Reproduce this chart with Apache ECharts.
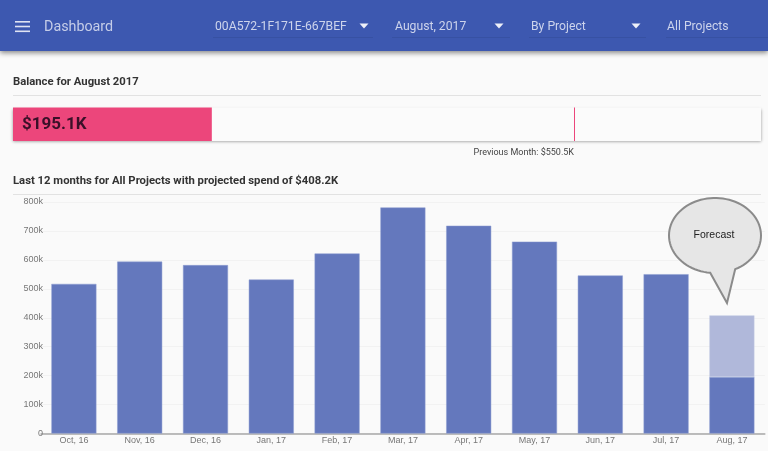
<!DOCTYPE html>
<html>
<head>
<meta charset="utf-8">
<title>Dashboard</title>
<script src="https://cdn.jsdelivr.net/npm/echarts@6/dist/echarts.min.js"></script>
<style>
html,body{margin:0;padding:0;background:#fafafa;}
#main{width:768px;height:451px;}
</style>
</head>
<body>
<div id="main"></div>
<script>
// data, in thousands of dollars
var months = ['Oct, 16','Nov, 16','Dec, 16','Jan, 17','Feb, 17','Mar, 17','Apr, 17','May, 17','Jun, 17','Jul, 17','Aug, 17'];
var spend = [517,594,582,532,622,781,718,663,546,550.5,195.1];
var forecast = [null,null,null,null,null,null,null,null,null,null,213.1];
var balance = [195.1];
var previousMonth = 550.5;
var balanceScaleMax = 734;
var yTicks = {min:0,max:800,interval:100};

var chart = echarts.init(document.getElementById('main'));

var ROBOTO = 'Roboto, sans-serif';
var ARIAL = '"Liberation Sans", Arial, sans-serif';

function headerSelect(label,x,x1,x2,arrow){
	var items = [
		{type:'text',z:12,style:{x:x,y:27,text:label,fill:'#cdd4ec',font:'12.2px '+ROBOTO,verticalAlign:'middle'}},
		{type:'line',z:12,shape:{x1:x1,y1:37.5,x2:x2,y2:37.5},style:{stroke:'#3751a3',lineWidth:1}}
	];
	if(arrow){
		items.push({type:'polygon',z:12,shape:{points:[[arrow-4.5,23.5],[arrow+4.5,23.5],[arrow,28.5]]},style:{fill:'#eef0f8'}});
	}
	return items;
}

// speech bubble outline: ellipse with the tail cut in
function bubblePoints(){
	var pts = [],cx = 715,cy = 235.5,rx = 46,ry = 37.5;
	for(var a = 0;a<360;a += 4){
		// canvas y goes down, angles 66..94 are where the tail leaves the ellipse
		if(a>=66 && a<=94){
			if(a===68) pts.push([727,303]);
			continue;
		}
		var r = a*Math.PI/180;
		pts.push([cx+rx*Math.cos(r),cy+ry*Math.sin(r)]);
	}
	return pts;
}

var graphics = [
	// balance box behind the bar
	{type:'rect',z:-1,shape:{x:13,y:107.5,width:748,height:33.5},style:{fill:'#fbfbfb',shadowBlur:3,shadowColor:'rgba(0,0,0,0.4)',shadowOffsetY:1}},
	// header
	{type:'rect',z:10,shape:{x:0,y:0,width:768,height:51},style:{fill:'#3d58b0',shadowBlur:5,shadowColor:'rgba(0,0,0,0.45)',shadowOffsetY:2}},
	{type:'rect',z:12,shape:{x:15,y:21,width:15,height:1.6},style:{fill:'#dfe3f3'}},
	{type:'rect',z:12,shape:{x:15,y:25.7,width:15,height:1.6},style:{fill:'#dfe3f3'}},
	{type:'rect',z:12,shape:{x:15,y:30.5,width:15,height:1.6},style:{fill:'#dfe3f3'}},
	{type:'text',z:12,style:{x:44,y:27,text:'Dashboard',fill:'#c5cde8',font:'14.3px '+ROBOTO,verticalAlign:'middle'}},
	// section headings
	{type:'text',style:{x:13,y:82,text:'Balance for August 2017',fill:'#333',font:'bold 11.3px '+ROBOTO,verticalAlign:'middle'}},
	{type:'line',shape:{x1:13,y1:95.5,x2:761,y2:95.5},style:{stroke:'#e2e2e2',lineWidth:1}},
	{type:'text',style:{x:13,y:181,text:'Last 12 months for All Projects with projected spend of $408.2K',fill:'#333',font:'bold 11.3px '+ROBOTO,verticalAlign:'middle'}},
	{type:'line',shape:{x1:13,y1:194.5,x2:761,y2:194.5},style:{stroke:'#e2e2e2',lineWidth:1}},
	// forecast callout
	{type:'polygon',z:20,shape:{points:bubblePoints()},style:{fill:'#e6e6e6',stroke:'#8b8b8b',lineWidth:2}},
	{type:'text',z:21,style:{x:714,y:235,text:'Forecast',fill:'#222',font:'10.5px '+ARIAL,align:'center',verticalAlign:'middle'}}
];
graphics = graphics.concat(
	headerSelect('00A572-1F171E-667BEF',215,213,373,364),
	headerSelect('August, 2017',395,392,510,499),
	headerSelect('By Project',531,529,646,636),
	headerSelect('All Projects',667,666,768,null)
);

var option = {
	animation:false,
	backgroundColor:'#fafafa',
	graphic:graphics,
	grid:[
		{left:41,top:202,width:723.8,height:231.5},
		{left:13,top:107.5,width:748,height:33.5}
	],
	xAxis:[
		{
			type:'category',
			gridIndex:0,
			data:months,
			axisTick:{show:false},
			axisLine:{lineStyle:{color:'#a8a8a8',width:1.5}},
			axisLabel:{color:'#777',fontSize:9,fontFamily:ARIAL,margin:3}
		},
		{type:'value',gridIndex:1,min:0,max:balanceScaleMax,show:false}
	],
	yAxis:[
		{
			type:'value',
			gridIndex:0,
			min:yTicks.min,
			max:yTicks.max,
			interval:yTicks.interval,
			axisLine:{show:false},
			axisTick:{show:false},
			axisLabel:{color:'#777',fontSize:9,fontFamily:ARIAL,margin:-2,formatter:function(v){return v===0?'0':v+'k';}},
			splitLine:{lineStyle:{color:'#f2f2f2',width:1}}
		},
		{type:'category',gridIndex:1,data:['Balance'],show:false}
	],
	series:[
		{
			name:'Spend',
			type:'bar',
			stack:'total',
			barWidth:45,
			data:spend,
			itemStyle:{color:'#6478bd',borderColor:'#8d9dd0',borderWidth:0.5}
		},
		{
			name:'Forecast',
			type:'bar',
			stack:'total',
			barWidth:45,
			data:forecast,
			itemStyle:{color:'#b0b8da',borderColor:'#c5cce4',borderWidth:0.5}
		},
		{
			name:'Balance',
			type:'bar',
			xAxisIndex:1,
			yAxisIndex:1,
			barWidth:'100%',
			data:balance,
			itemStyle:{color:'#ec467b'},
			label:{
				show:true,
				position:'insideLeft',
				distance:9,
				color:'#3a1028',
				fontSize:17,
				fontWeight:'bold',
				fontFamily:ROBOTO,
				formatter:function(p){return '$'+p.value+'K';}
			},
			markLine:{
				silent:true,
				symbol:'none',
				lineStyle:{color:'#ec467b',width:1,type:'solid'},
				label:{
					position:'start',
					align:'right',
					distance:7,
					color:'#444',
					fontSize:9,
					fontFamily:ROBOTO,
					formatter:'Previous Month: $'+previousMonth+'K'
				},
				data:[{xAxis:previousMonth}]
			}
		}
	]
};
chart.setOption(option);
window.addEventListener('resize',function(){
	chart.resize();
});
</script>
</body>
</html>
